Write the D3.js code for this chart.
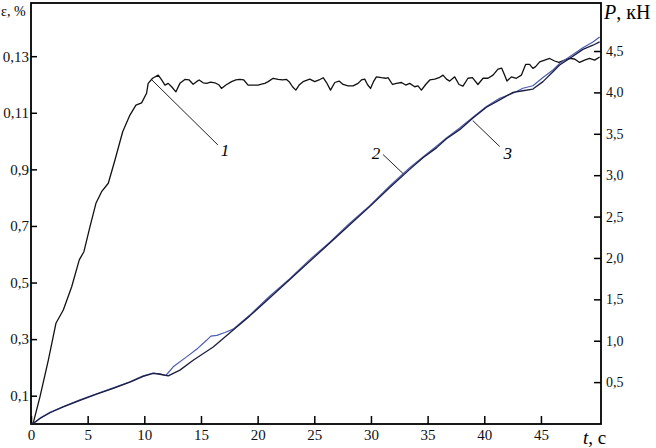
<!DOCTYPE html>
<html>
<head>
<meta charset="utf-8">
<script src="https://cdn.jsdelivr.net/npm/d3@7"></script>
<style>
  body { margin: 0; background: #fff; }
  svg { display: block; font-family: "Liberation Serif", "DejaVu Serif", serif; }
  .tick text { fill: #111; }
  .tick line { stroke: #000; stroke-width: 1.5; }
</style>
</head>
<body>
<div id="chart"></div>
<script>
// curve 1: strain, % (left axis)
var t1 = [0, 0.2, 0.79, 1.53, 2.2, 2.85, 3.59, 4.26, 4.67, 5.2, 5.73, 6.23, 6.82, 7.41, 8.09, 8.73, 9.26, 9.76, 10.2, 10.34, 10.73,
  11.23, 11.53, 11.82, 12.11, 12.41, 12.79, 13.14, 13.58, 13.96, 14.31, 14.61, 14.84, 15.19, 15.49, 15.85, 16.23, 16.6, 16.81,
  17.2, 17.7, 18.08, 18.43, 18.78, 19.16, 19.6, 20.04, 20.34, 20.63, 20.93, 21.37, 21.81, 22.2, 22.55, 22.78, 23.08, 23.37,
  23.66, 24.01, 24.6, 25.04, 25.42, 25.78, 26.08, 26.43, 26.81, 27.19, 27.54, 27.98, 28.42, 28.86, 29.16, 29.45, 29.69,
  29.96, 30.25, 30.48, 30.93, 31.31, 31.51, 31.9, 32.25, 32.69, 33.07, 33.42, 33.86, 34.15, 34.45, 34.83, 35.19, 35.63,
  36.01, 36.36, 36.66, 36.95, 37.39, 37.77, 38.12, 38.56, 38.95, 39.44, 39.89, 40.33, 40.77, 41.21, 41.53, 41.8, 42.0,
  42.39, 42.83, 43.27, 43.65, 44.0, 44.29, 44.53, 44.89, 45.33, 45.77, 46.21, 46.59, 47.09, 47.53, 47.97, 48.41, 48.85,
  49.29, 49.74, 50.18];
var eps1 = [0, 0.004, 0.096, 0.226, 0.356, 0.403, 0.485, 0.58, 0.609, 0.697, 0.78, 0.821, 0.851, 0.933, 1.033, 1.092, 1.127, 1.135, 1.169, 1.204, 1.222,
  1.233, 1.216, 1.198, 1.204, 1.192, 1.174, 1.204, 1.218, 1.216, 1.201, 1.21, 1.216, 1.206, 1.204, 1.208, 1.206, 1.198, 1.186,
  1.198, 1.21, 1.216, 1.218, 1.216, 1.198, 1.198, 1.198, 1.201, 1.204, 1.21, 1.222, 1.218, 1.216, 1.218, 1.21, 1.192, 1.18,
  1.198, 1.21, 1.219, 1.21, 1.216, 1.224, 1.207, 1.18, 1.207, 1.212, 1.2, 1.195, 1.195, 1.204, 1.216, 1.219, 1.2,
  1.186, 1.212, 1.227, 1.224, 1.222, 1.224, 1.2, 1.204, 1.207, 1.198, 1.204, 1.192, 1.195, 1.18, 1.2, 1.216, 1.219,
  1.224, 1.233, 1.219, 1.212, 1.227, 1.2, 1.194, 1.222, 1.224, 1.2, 1.222, 1.222, 1.233, 1.254, 1.258, 1.233, 1.212,
  1.227, 1.222, 1.233, 1.271, 1.271, 1.257, 1.263, 1.28, 1.286, 1.292, 1.283, 1.278, 1.286, 1.292, 1.29, 1.278, 1.286,
  1.292, 1.286, 1.297];

// curve 2: load, kN (right axis)
var t2 = [0, 0.2, 0.79, 1.68, 2.85, 4.32, 5.79, 7.26, 8.73, 9.9, 10.78, 11.38, 12.11, 13.14, 14.31, 16.08, 17.84, 19.31,
  21.08, 22.84, 24.6, 26.37, 28.13, 29.89, 31.66, 33.42, 34.59, 35.78, 36.66, 37.83, 39.0, 40.19, 41.36, 42.53, 43.41,
  44.29, 45.18, 46.06, 46.65, 47.53, 48.7, 49.59, 50.18];
var p2 = [0, 0, 0.06, 0.13, 0.2, 0.28, 0.355, 0.425, 0.5, 0.57, 0.605, 0.595, 0.575, 0.645, 0.765, 0.925, 1.13, 1.3,
  1.52, 1.74, 1.96, 2.18, 2.4, 2.62, 2.85, 3.07, 3.21, 3.33, 3.44, 3.55, 3.69, 3.82, 3.91, 4.0, 4.02,
  4.04, 4.13, 4.25, 4.33, 4.41, 4.52, 4.57, 4.61];

// curve 3: load, kN (right axis)
var t3 = [0, 0.2, 0.79, 1.68, 2.85, 4.32, 5.79, 7.26, 8.73, 9.9, 10.78, 11.38, 11.9, 12.55, 13.73, 14.73, 15.49, 15.87,
  16.4, 17.11, 17.84, 19.31, 21.08, 22.84, 24.6, 26.37, 28.13, 29.89, 31.66, 33.42, 34.59, 35.78, 36.66, 37.83, 39.0,
  40.19, 41.36, 42.53, 43.41, 44.29, 45.18, 46.06, 46.65, 47.53, 48.7, 49.59, 50.18];
var p3 = [0, 0, 0.065, 0.135, 0.205, 0.285, 0.36, 0.43, 0.505, 0.575, 0.61, 0.6, 0.58, 0.685, 0.805, 0.91, 1.005, 1.055,
  1.065, 1.1, 1.14, 1.31, 1.54, 1.75, 1.98, 2.19, 2.42, 2.63, 2.87, 3.09, 3.22, 3.35, 3.45, 3.57, 3.7,
  3.83, 3.93, 3.99, 4.05, 4.08, 4.18, 4.27, 4.35, 4.43, 4.54, 4.61, 4.67];

var tTicks = [0, 5, 10, 15, 20, 25, 30, 35, 40, 45];
var epsTicks = [0.1, 0.3, 0.5, 0.7, 0.9, 1.1, 1.3];
var epsLabels = ["0,1", "0,3", "0,5", "0,7", "0,9", "0,11", "0,13"];
var pTicks = [0.5, 1.0, 1.5, 2.0, 2.5, 3.0, 3.5, 4.0, 4.5];
var pLabels = ["0,5", "1,0", "1,5", "2,0", "2,5", "3,0", "3,5", "4,0", "4,5"];

var svgWidth = 656;
var svgHeight = 448;
var plotLeft = 31, plotRight = 601, plotTop = 3, plotBottom = 424;

var svg = d3.select("#chart")
  .append("svg")
  .attr("width", svgWidth)
  .attr("height", svgHeight);

var xScale = d3.scaleLinear().domain([0, 50.3]).range([plotLeft, plotRight]);
var yEps = d3.scaleLinear().domain([0, 1.488]).range([plotBottom, plotTop]);
var yP = d3.scaleLinear().domain([0, 5.08]).range([423.5, plotTop]);

// axes (ticks pointing inward)
svg.append("g")
  .attr("transform", `translate(0, ${plotBottom})`)
  .call(d3.axisBottom(xScale).tickValues(tTicks).tickSize(-8).tickSizeOuter(0).tickPadding(5))
  .call(g => g.select(".domain").remove())
  .selectAll("text").attr("font-size", 15).attr("font-family", "Liberation Serif");

svg.append("g")
  .attr("transform", `translate(${plotLeft}, 0)`)
  .call(d3.axisLeft(yEps).tickValues(epsTicks).tickFormat((d, i) => epsLabels[i]).tickSize(-6).tickSizeOuter(0).tickPadding(2))
  .call(g => g.select(".domain").remove())
  .selectAll("text").attr("font-size", 15).attr("font-family", "Liberation Serif");

svg.append("g")
  .attr("transform", `translate(${plotRight}, 0)`)
  .call(d3.axisRight(yP).tickValues(pTicks).tickFormat((d, i) => pLabels[i]).tickSize(-7).tickSizeOuter(0).tickPadding(5))
  .call(g => g.select(".domain").remove())
  .selectAll("text").attr("font-size", 14).attr("font-family", "Liberation Serif");

// frame
svg.append("rect")
  .attr("x", plotLeft).attr("y", plotTop)
  .attr("width", plotRight - plotLeft).attr("height", plotBottom - plotTop)
  .attr("fill", "none").attr("stroke", "#000").attr("stroke-width", 1.8);

// curves
var lineEps = d3.line().x((d, i) => xScale(t1[i])).y(d => yEps(d));
svg.append("path").datum(eps1)
  .attr("d", lineEps)
  .attr("fill", "none").attr("stroke", "#111").attr("stroke-width", 1.3)
  .attr("stroke-linejoin", "round");

var line2 = d3.line().x((d, i) => xScale(t2[i])).y(d => yP(d));
var line3 = d3.line().x((d, i) => xScale(t3[i])).y(d => yP(d));

svg.append("path").datum(p3)
  .attr("d", line3)
  .attr("fill", "none").attr("stroke", "#4a5cb0").attr("stroke-width", 1.2)
  .attr("stroke-linejoin", "round");

svg.append("path").datum(p2)
  .attr("d", line2)
  .attr("fill", "none").attr("stroke", "#1c1c40").attr("stroke-width", 1.3)
  .attr("stroke-linejoin", "round");

// leader lines and curve numbers
var notes = [
  {num: "1", x: xScale(10.67), y: yEps(1.216), dx: 66, dy: 65, lx: 73, ly: 76},
  {num: "2", x: xScale(32.83), y: yP(3.02), dx: -20, dy: -19, lx: -27, ly: -15},
  {num: "3", x: xScale(38.98), y: yP(3.66), dx: 27, dy: 26, lx: 35, ly: 38}
];
notes.forEach(function(n) {
  svg.append("line")
    .attr("x1", n.x).attr("y1", n.y)
    .attr("x2", n.x + n.dx).attr("y2", n.y + n.dy)
    .attr("stroke", "#222").attr("stroke-width", 1);
  svg.append("text")
    .attr("x", n.x + n.lx).attr("y", n.y + n.ly)
    .attr("text-anchor", "middle")
    .attr("font-size", 17).attr("font-style", "italic")
    .text(n.num);
});

// axis titles
svg.append("text").attr("x", 1).attr("y", 16).attr("font-size", 14).text("ε, %");

var pTitle = svg.append("text").attr("x", 604).attr("y", 19).attr("font-size", 20);
pTitle.append("tspan").attr("font-style", "italic").text("P");
pTitle.append("tspan").text(", кН");

var tTitle = svg.append("text").attr("x", 583).attr("y", 444).attr("font-size", 19);
tTitle.append("tspan").attr("font-style", "italic").text("t");
tTitle.append("tspan").text(", с");
</script>
</body>
</html>
